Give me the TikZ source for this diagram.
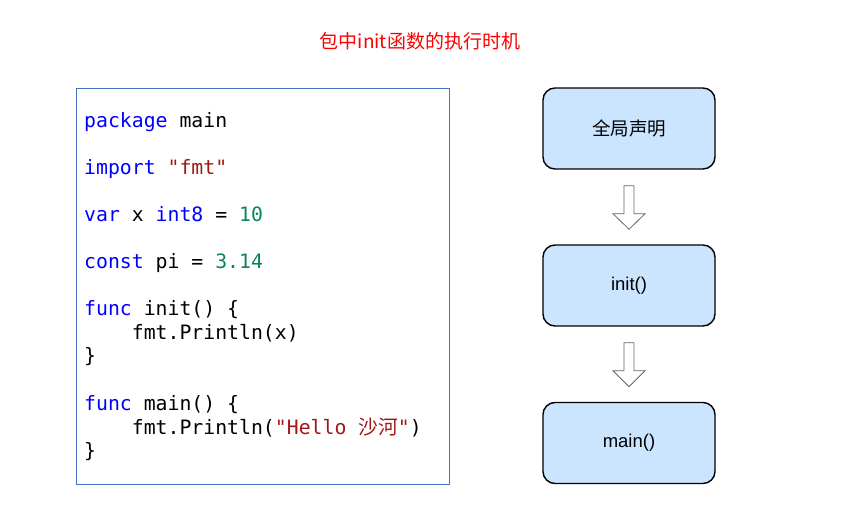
\documentclass[tikz,border=0pt]{standalone}
\usepackage{fontspec}
\setmainfont{Liberation Sans}
\newfontfamily\codefont{DejaVu Sans Mono}
\newfontfamily\cjk{Noto Sans CJK SC}
\usetikzlibrary{calc}
\definecolor{kw}{HTML}{0000FF}
\definecolor{str}{HTML}{A31515}
\definecolor{num}{HTML}{098658}
\definecolor{framecol}{HTML}{4472C4}
\definecolor{boxfill}{HTML}{CCE5FF}
\definecolor{arrowgray}{HTML}{666666}
\definecolor{titlered}{HTML}{FF0000}
\begin{document}
\begin{tikzpicture}[x=1pt,y=-1pt,
  code/.style={anchor=base west, inner sep=0pt, font=\codefont\fontsize{19.8}{23.5}\selectfont},
  stage/.style={draw=black, line width=1.4pt, fill=boxfill, rounded corners=12pt,
    minimum width=172pt, minimum height=81pt, inner sep=0pt},
  hollow/.style={draw=arrowgray, fill=white, line width=0.8pt, line join=miter}]
\useasboundingbox (0,0) rectangle (863,532);

% title
\node[text=titlered, font=\cjk\fontsize{19}{21}\selectfont] (title) at (420,41) {包中init函数的执行时机};

% code frame
\draw[framecol, line width=1pt] (76,89) rectangle (449,484);
\coordinate (codeframe) at (76,89);

% code lines
\node[code] (l1) at (84,127.2) {\textcolor{kw}{package} main};
\node[code] (l2) at (84,174.3) {\textcolor{kw}{import} \textcolor{str}{"fmt"}};
\node[code] (l3) at (84,221.4) {\textcolor{kw}{var} x \textcolor{kw}{int8} = \textcolor{num}{10}};
\node[code] (l4) at (84,268.6) {\textcolor{kw}{const} pi = \textcolor{num}{3.14}};
\node[code] (l5) at (84,315.7) {\textcolor{kw}{func} init() \{};
\node[code] (l6) at (84,339.2) {\phantom{xxxx}fmt.Println(x)};
\node[code] (l7) at (84,362.8) {\}};
\node[code] (l8) at (84,410.4) {\textcolor{kw}{func} main() \{};
\node[code] (l9) at (84,434.0) {\phantom{xxxx}fmt.Println(\textcolor{str}{"Hello {\cjk 沙河}"})};
\node[code] (l10) at (84,457.5) {\}};

% stages
\node[stage, font=\cjk\fontsize{18.5}{20}\selectfont] (s1) at (629,128.5) {全局声明};
\node[stage, font=\fontsize{18.5}{20}\selectfont] (s2) at (629,285.5) {init()};
\node[stage, font=\fontsize{18.5}{20}\selectfont] (s3) at (629,443) {main()};

% hollow arrows
\draw[hollow] ($(s1.south)+(-5,16)$) -- ($(s1.south)+(5,16)$) -- ($(s1.south)+(5,44)$)
  -- ($(s1.south)+(16,44)$) -- ($(s2.north)+(0,-15)$) -- ($(s1.south)+(-16,44)$)
  -- ($(s1.south)+(-5,44)$) -- cycle;
\draw[hollow] ($(s2.south)+(-5,16)$) -- ($(s2.south)+(5,16)$) -- ($(s2.south)+(5,44)$)
  -- ($(s2.south)+(16,44)$) -- ($(s3.north)+(0,-15)$) -- ($(s2.south)+(-16,44)$)
  -- ($(s2.south)+(-5,44)$) -- cycle;
\end{tikzpicture}
\end{document}
